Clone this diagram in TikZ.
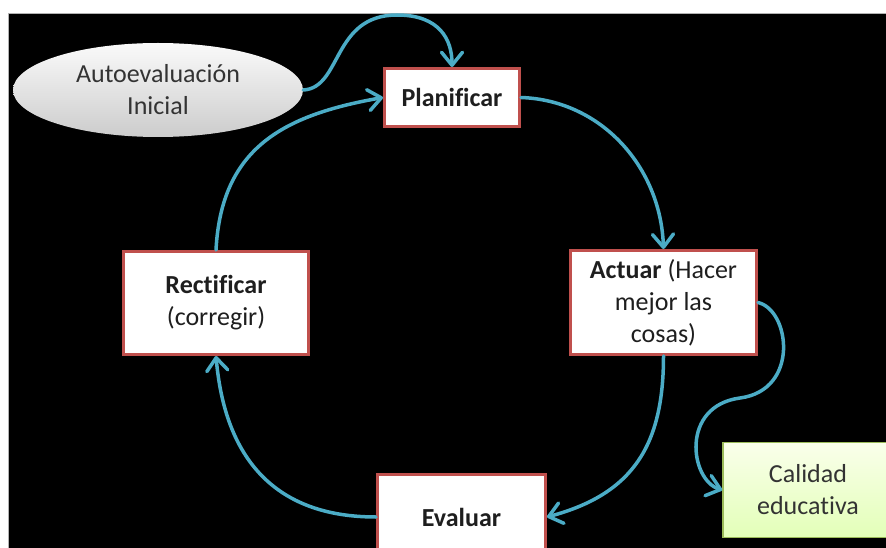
\documentclass[tikz,border=0pt]{standalone}
\usepackage{fontspec}
\setmainfont{Carlito}[Ligatures=NoCommon]
\usetikzlibrary{arrows.meta,shapes.geometric}
\definecolor{borde}{HTML}{C0504D}
\definecolor{flecha}{HTML}{4BACC6}
\definecolor{texto}{HTML}{1E1E1E}
\definecolor{gris}{HTML}{333333}
\definecolor{verdeborde}{HTML}{9BBB59}
\begin{document}
\begin{tikzpicture}[x=1pt, y=1pt,
  font=\fontsize{26}{32}\selectfont,
  caja/.style={draw=borde, line width=3pt, fill=white, text=texto, align=center, inner sep=0pt},
  flujo/.style={draw=flecha, line width=3.5pt, line cap=round,
    -{Straight Barb[length=13pt, width=21pt, round]}}]
\useasboundingbox (0,0) rectangle (886,-548);
\fill[white] (0,0) rectangle (886,-548);
\filldraw[fill=black, draw=gray!60, line width=0.8pt] (8,-13) rectangle (892,-556);
% nodos
\node[ellipse, minimum width=290pt, minimum height=94pt, inner sep=0pt,
  top color=gray!4, bottom color=gray!40, text=gris, align=center] (N_auto) at (158,-90) {Autoevaluación\\Inicial};
\node[caja, minimum width=135pt, minimum height=58pt] (N_plan) at (452,-97.5) {\textbf{Planificar}};
\node[caja, minimum width=186pt, minimum height=104pt] (N_act) at (663.5,-302.5) {\textbf{Actuar} (Hacer\\mejor las\\cosas)};
\node[caja, minimum width=185pt, minimum height=103pt] (N_rect) at (216,-303) {\textbf{Rectificar}\\(corregir)};
\node[caja, minimum width=168pt, minimum height=86pt] (N_eval) at (461.5,-517) {\textbf{Evaluar}};
\node[draw=verdeborde, line width=1.5pt, top color=green!25!yellow!8, bottom color=green!40!yellow!28,
  text=gris, align=center, inner sep=0pt, minimum width=170pt, minimum height=95pt] (N_cal) at (808,-490) {Calidad\\educativa};
% flechas
\draw[flujo] (N_auto.east) .. controls (342,-88) and (332,-15) .. (397,-15)
  .. controls (440,-15) and (452,-40) .. (N_plan.north);
\draw[flujo] (N_plan.east) to[out=-2, in=92] (N_act.north);
\draw[flujo] (N_act.south) to[out=-90, in=15, looseness=1.15] (N_eval.east);
\draw[flujo] (N_eval.west) to[out=180, in=-85, looseness=1.15] (N_rect.south);
\draw[flujo] (N_rect.north) to[out=87, in=190, looseness=1.15] (N_plan.west);
\draw[flujo] (N_act.east) .. controls (790,-310) and (800,-390) .. (740,-398)
  .. controls (680,-406) and (690,-480) .. (N_cal.west);
\end{tikzpicture}
\end{document}
